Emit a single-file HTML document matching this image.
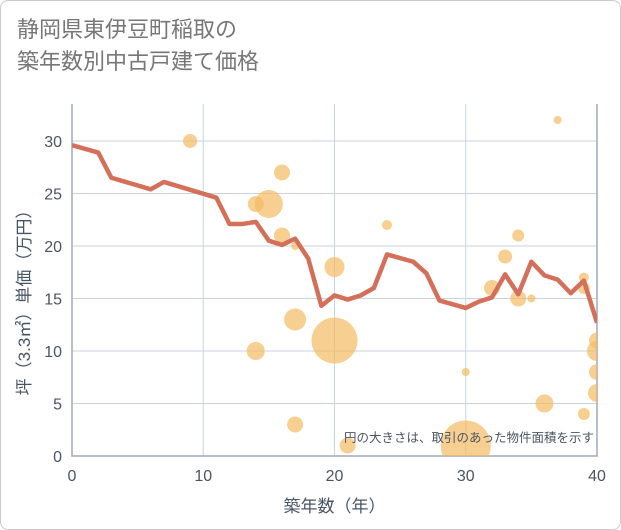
<!DOCTYPE html>
<html><head><meta charset="utf-8"><style>
body{margin:0;background:#fff;}
#wrap{position:relative;width:619px;height:528px;border:1px solid #ccc;border-radius:8px;overflow:hidden;background:#fff;font-family:"Liberation Sans","Noto Sans CJK JP",sans-serif;}
.title{position:absolute;left:16px;top:13px;font-size:22px;line-height:32px;color:#777;}
</style></head><body>
<div id="wrap">
<div class="title">静岡県東伊豆町稲取の<br>築年数別中古戸建て価格</div>
<svg id="chart" width="621" height="530" style="position:absolute;left:-1px;top:-2px"></svg>
</div>
<script>
const xTicks=[0,10,20,30,40];
const yTicks=[0,5,10,15,20,25,30];
const lineX=[0,2,3,6,7,11,12,13,14,15,16,17,18,19,20,21,22,23,24,26,27,28,30,31,32,33,34,35,36,37,38,39,40];
const lineY=[29.6,28.9,26.5,25.4,26.1,24.6,22.1,22.1,22.3,20.5,20.1,20.7,18.8,14.3,15.3,14.9,15.3,16.0,19.2,18.5,17.4,14.8,14.1,14.7,15.1,17.3,15.4,18.5,17.2,16.8,15.5,16.7,12.7];
const bubX=[9,16,14,15,16,17,20,17,14,20,17,21,24,30,30,33,32,34,34,35,36,37,39,39,40,40,40,40,39];
const bubY=[30,27,24,24,21,20,18,13,10,11,3,1,22,8,1,19,16,21,15,15,5,32,17,4,11,10,8,6,16];
const bubR=[7,8,8,14,8,4,10,11,9,23,8,8,5,4,25,7,8,6,8,4,9,4,5,6,8,10,8,9,6];
const X0=72,X1=597,Y0=457,Y1=142;
const sx=v=>X0+(X1-X0)*v/40, sy=v=>Y0-(Y0-Y1)*v/30;
const svg=document.getElementById('chart'),NS='http://www.w3.org/2000/svg';
function mk(t,a,p){const e=document.createElementNS(NS,t);for(const k in a)e.setAttribute(k,a[k]);(p||svg).appendChild(e);return e;}
const clip=mk('clipPath',{id:'pc'});mk('rect',{x:X0,y:105,width:X1-X0,height:Y0-105},clip);
xTicks.forEach(v=>{const l=mk('line',{x1:sx(v),x2:sx(v),y1:105,y2:Y0,stroke:'#c8d3df','stroke-width':1});

const t=mk('text',{x:sx(v),y:482,'text-anchor':'middle','font-size':16,fill:'#4a5563'});t.textContent=v;
});
yTicks.forEach(v=>{const l=mk('line',{x1:X0,x2:X1,y1:sy(v),y2:sy(v),stroke:'#c8d3df','stroke-width':1});

const t=mk('text',{x:X0-10,y:sy(v)+6,'text-anchor':'end','font-size':16,fill:'#4a5563'});t.textContent=v;
});
const ax=mk('path',{d:`M${X0},105V${Y0}H${X1}V105`,fill:'none',stroke:'#a0aab8','stroke-width':1.5});

const g=mk('g',{'clip-path':'url(#pc)'});
bubX.forEach((v,i)=>{const c=mk('circle',{cx:sx(v),cy:sy(bubY[i]),r:bubR[i],fill:'#f2bb63','fill-opacity':0.7},g);
});
const ln=mk('polyline',{points:lineX.map((v,i)=>sx(v)+','+sy(lineY[i])).join(' '),fill:'none',stroke:'#d4705a','stroke-width':4.5,'stroke-linejoin':'round'},g);

const note=mk('text',{x:594,y:443,'text-anchor':'end','font-size':12.5,fill:'#4a5563'});note.textContent='円の大きさは、取引のあった物件面積を示す';

const xt=mk('text',{x:sx(20),y:513,'text-anchor':'middle','font-size':17,fill:'#4a5563'});xt.textContent='築年数（年）';

const yt=mk('text',{x:0,y:0,'text-anchor':'middle','font-size':17,fill:'#4a5563',transform:`translate(30,${sy(15)}) rotate(-90)`});yt.textContent='坪（3.3㎡）単価（万円）';

</script>
</body></html>
